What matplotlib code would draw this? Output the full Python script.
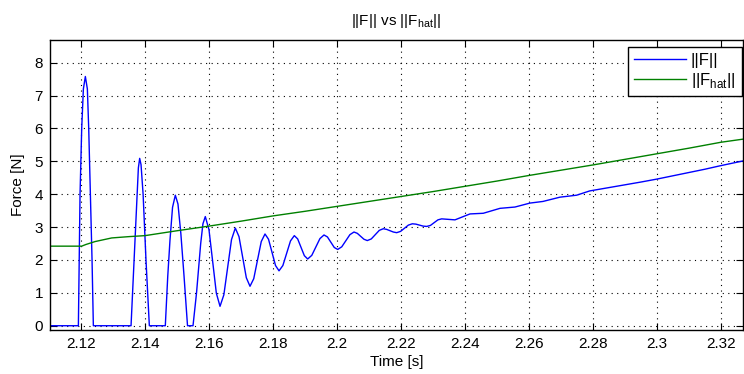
import matplotlib
matplotlib.use("Agg")
import matplotlib.pyplot as plt

plt.rcParams['font.family'] = ['Liberation Sans', 'DejaVu Sans']
plt.rcParams['font.size'] = 11

# ||F|| (blue)
t_f = [2.1100, 2.11917, 2.11969, 2.12021, 2.12073, 2.12135, 2.12198, 2.1224, 2.12292, 2.12344, 2.12385,
       2.13563, 2.13667, 2.1375, 2.13792, 2.13833, 2.13875, 2.1394, 2.1403, 2.14135,
       2.14634, 2.1471, 2.1478, 2.1486, 2.14947, 2.1503, 2.1512, 2.1522, 2.15328,
       2.1550, 2.1561, 2.1567, 2.1574, 2.1581, 2.15884,
       2.15999, 2.16114, 2.16229, 2.16344,
       2.16464, 2.16583, 2.16703, 2.16822,
       2.16937, 2.17052, 2.17166, 2.17281,
       2.17398, 2.17516, 2.17633, 2.1775,
       2.1786, 2.17969, 2.18079, 2.18188,
       2.18308, 2.18427, 2.18547, 2.18666,
       2.18771, 2.18875, 2.1898, 2.19084,
       2.19212, 2.19339, 2.19467, 2.19594,
       2.19701, 2.19808, 2.19915, 2.20022,
       2.20149, 2.20277, 2.20404, 2.20531,
       2.20635, 2.20739, 2.20843, 2.20947,
       2.21072, 2.21197, 2.21322, 2.21447,
       2.21552, 2.21657, 2.21761, 2.21866,
       2.21988, 2.2211, 2.22231, 2.22353,
       2.22466, 2.22578, 2.22691, 2.22803,
       2.2292, 2.23038, 2.23155, 2.23272,
       2.2348, 2.23688, 2.23922, 2.24156, 2.24364, 2.24572, 2.24833, 2.25094,
       2.25328, 2.25563, 2.25797, 2.26031, 2.26234, 2.26438, 2.26703, 2.26969,
       2.2723, 2.27491, 2.27695, 2.2790, 2.285, 2.290, 2.295, 2.300,
       2.305, 2.310, 2.315, 2.320, 2.3273]
f_norm = [0, 0, 4.0, 6.0, 7.2, 7.58, 7.2, 6.0, 4.0, 2.0, 0,
          0, 2.2, 4.0, 4.8, 5.09, 4.9, 4.0, 2.0, 0,
          0, 1.5, 2.6, 3.6, 3.97, 3.7, 2.8, 1.5, 0,
          0, 1.0, 1.7, 2.5, 3.1, 3.32,
          2.92, 1.955, 0.99, 0.59,
          0.94, 1.78, 2.62, 2.97,
          2.71, 2.085, 1.46, 1.20,
          1.43, 2.0, 2.56, 2.79,
          2.63, 2.23, 1.83, 1.67,
          1.83, 2.205, 2.58, 2.74,
          2.64, 2.385, 2.13, 2.03,
          2.14, 2.395, 2.65, 2.76,
          2.70, 2.54, 2.38, 2.32,
          2.40, 2.585, 2.77, 2.85,
          2.81, 2.72, 2.63, 2.59,
          2.64, 2.77, 2.90, 2.95,
          2.93, 2.89, 2.85, 2.83,
          2.87, 2.965, 3.06, 3.10,
          3.09, 3.06, 3.03, 3.02,
          3.05, 3.135, 3.22, 3.25,
          3.235, 3.22, 3.31, 3.40, 3.41, 3.42, 3.495, 3.57,
          3.59, 3.61, 3.67, 3.73, 3.755, 3.78, 3.845, 3.91,
          3.94, 3.97, 4.035, 4.10, 4.20, 4.28, 4.37, 4.46,
          4.56, 4.66, 4.76, 4.87, 5.02]

# ||F_hat|| (green)
t_fhat = [2.1100, 2.1202, 2.1215, 2.1244, 2.1296, 2.135, 2.140, 2.1494, 2.160, 2.170, 2.180,
          2.190, 2.200, 2.210, 2.220, 2.230, 2.240, 2.250, 2.260, 2.270, 2.280, 2.290,
          2.300, 2.310, 2.320, 2.3273]
f_hat = [2.42, 2.42, 2.47, 2.56, 2.67, 2.71, 2.74, 2.88, 3.03, 3.18, 3.34,
         3.48, 3.63, 3.78, 3.93, 4.08, 4.24, 4.40, 4.57, 4.73, 4.89, 5.06,
         5.23, 5.40, 5.58, 5.68]

x_ticks = [2.12, 2.14, 2.16, 2.18, 2.20, 2.22, 2.24, 2.26, 2.28, 2.30, 2.32]
y_ticks = [0, 1, 2, 3, 4, 5, 6, 7, 8]

fig = plt.figure(figsize=(7.44, 3.74), dpi=100)
ax = fig.add_axes([50 / 744, 44 / 374, 693 / 744, 290 / 374])

ax.plot(t_f, f_norm, color=(0, 0, 1), lw=1.0, label='||F||')
ax.plot(t_fhat, f_hat, color=(0, 0.5, 0), lw=1.0, label=r'||F$_\mathregular{hat}$||')

ax.set_xlim(2.1103, 2.3269)
ax.set_ylim(-0.13, 8.69)
ax.set_xticks(x_ticks)
ax.set_xticklabels(['%g' % v for v in x_ticks])
ax.set_yticks(y_ticks)
ax.tick_params(direction='in', length=5, top=True, right=True, labelsize=11, pad=5)
ax.grid(True, color='black', linestyle=(0, (1, 4)), lw=0.8)
for s in ax.spines.values():
    s.set_linewidth(1.0)

ax.set_title(r'||F|| vs ||F$_\mathregular{hat}$||', fontsize=11, pad=11)
ax.set_xlabel('Time [s]', labelpad=3)
ax.set_ylabel('Force [N]', labelpad=7)

leg = ax.legend(loc='upper right', bbox_to_anchor=(0.998, 0.976), borderaxespad=0,
                fancybox=False, edgecolor='black', framealpha=1, handlelength=3.1,
                handletextpad=0.3, fontsize=12, borderpad=0.35, labelspacing=0.2)
leg.get_frame().set_linewidth(1.0)

fig.savefig('out.png', dpi=100)
